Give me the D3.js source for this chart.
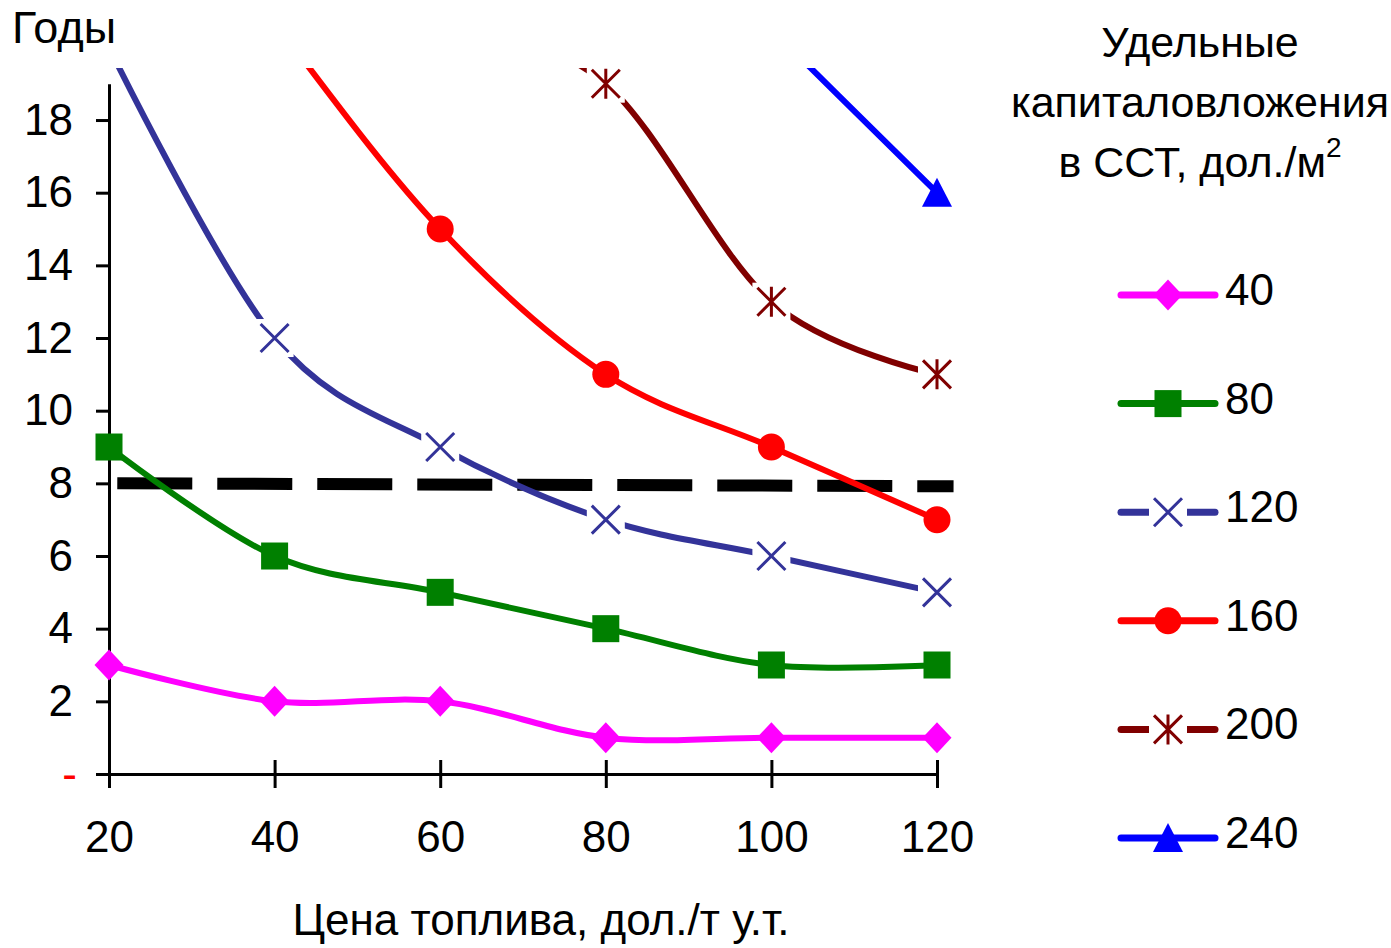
<!DOCTYPE html>
<html>
<head>
<meta charset="utf-8">
<script src="https://cdn.jsdelivr.net/npm/d3@7"></script>
<style>
  body { margin: 0; background: #fff; }
  text { font-family: "Liberation Sans", Arial, sans-serif; }
</style>
</head>
<body>
<svg id="chart" width="1391" height="948"></svg>
<script>
// fuel price, $/t c.e.
const prices = [20, 40, 60, 80, 100, 120];
// payback years per specific investment (null = not plotted, values > 19 run off the top)
const s40  = [3, 2, 2, 1, 1, 1];
const s80  = [9, 6, 5, 4, 3, 3];
const s120 = [20, 12, 9, 7, 6, 5];
const s160 = [27, 20.7, 15, 11, 9, 7];
const s200 = [null, 26, 21, 19, 13, 11];
const s240 = [null, null, 31, 25, 20.5, 16];
// normative payback level (dashed)
const normX = [21, 122];
const normY = [8, 7.92];
const yTicks = [0, 2, 4, 6, 8, 10, 12, 14, 16, 18];
const legendNames = ["40", "80", "120", "160", "200", "240"];

const series = [
  { name: legendNames[0], values: s40,  color: "#ff00ff", marker: "diamond" },
  { name: legendNames[1], values: s80,  color: "#008000", marker: "square" },
  { name: legendNames[2], values: s120, color: "#333399", marker: "x" },
  { name: legendNames[3], values: s160, color: "#ff0000", marker: "circle" },
  { name: legendNames[4], values: s200, color: "#800000", marker: "star" },
  { name: legendNames[5], values: s240, color: "#0000ff", marker: "triangle" }
];

const svg = d3.select("#chart");
const fontSize = 44;

let x = d3.scaleLinear().domain([20, 120]).range([109, 937]);
let y = d3.scaleLinear().domain([0, 19]).range([774, 83.7]);

svg.append("defs").append("clipPath").attr("id", "plot-clip")
  .append("rect").attr("x", 90).attr("y", 68).attr("width", 880).attr("height", 740);

// axes
let yAxis = d3.axisLeft(y).tickValues(yTicks).tickSize(13).tickSizeOuter(0)
  .tickPadding(23)
  .tickFormat(d => d === 0 ? "-" : d);
let gy = svg.append("g").attr("transform", "translate(109,0)").call(yAxis);
gy.select(".domain").attr("stroke", "#000").attr("stroke-width", 3);
gy.selectAll(".tick line").attr("stroke", "#000").attr("stroke-width", 3);
gy.selectAll(".tick text")
  .attr("font-size", fontSize).attr("fill", d => d === 0 ? "#ff0000" : "#000")
  .attr("dx", d => d === 0 ? 4 : 0)
  .style("font-family", "'Liberation Sans', Arial, sans-serif");

let xAxis = d3.axisBottom(x).tickValues(prices).tickSize(14).tickSizeOuter(0).tickPadding(33);
let gx = svg.append("g").attr("transform", "translate(0,774)").call(xAxis);
gx.select(".domain").attr("stroke", "#000").attr("stroke-width", 3);
gx.selectAll(".tick line").attr("y1", -14).attr("stroke", "#000").attr("stroke-width", 3);
gx.selectAll(".tick text").attr("font-size", fontSize).attr("fill", "#000")
  .style("font-family", "'Liberation Sans', Arial, sans-serif");

// axis titles
svg.append("text").attr("x", 12).attr("y", 43).attr("font-size", 45).text("Годы");
svg.append("text").attr("x", 541).attr("y", 935).attr("text-anchor", "middle")
  .attr("font-size", fontSize).text("Цена топлива, дол./т у.т.");

let plot = svg.append("g").attr("clip-path", "url(#plot-clip)");

// dashed norm line
let normLine = d3.line().x((d, i) => x(normX[i])).y(d => y(d));
plot.append("path")
  .attr("d", normLine(normY))
  .attr("fill", "none").attr("stroke", "#000").attr("stroke-width", 12)
  .attr("stroke-dasharray", "75,25");

let lineGenerator = d3.line()
  .defined(d => d.v !== null)
  .x(d => x(d.p))
  .y(d => y(d.v))
  .curve(d3.curveCardinal);

function drawMarker(g, type, color) {
  if (type === "diamond") {
    g.append("path").attr("d", "M0,-15.5 L14.5,0 L0,15.5 L-14.5,0 Z").attr("fill", color);
  } else if (type === "square") {
    g.append("rect").attr("x", -13.5).attr("y", -13.5).attr("width", 27).attr("height", 27).attr("fill", color);
  } else if (type === "circle") {
    g.append("circle").attr("r", 13.5).attr("fill", color);
  } else if (type === "triangle") {
    g.append("path").attr("d", "M0,-15 L15,14 L-15,14 Z").attr("fill", color);
  } else if (type === "x") {
    g.append("rect").attr("x", -19).attr("y", -19).attr("width", 38).attr("height", 38).attr("fill", "#fff");
    g.append("path").attr("d", "M-14,-14 L14,14 M-14,14 L14,-14")
      .attr("stroke", color).attr("stroke-width", 3).attr("fill", "none");
  } else if (type === "star") {
    g.append("rect").attr("x", -19).attr("y", -19).attr("width", 38).attr("height", 38).attr("fill", "#fff");
    g.append("path").attr("d", "M-14,-14 L14,14 M-14,14 L14,-14 M0,-15 L0,15")
      .attr("stroke", color).attr("stroke-width", 3).attr("fill", "none");
  }
}

series.forEach(s => {
  let pts = prices.map((p, i) => ({ p: p, v: s.values[i] }));
  plot.append("path")
    .attr("d", lineGenerator(pts))
    .attr("fill", "none").attr("stroke", s.color).attr("stroke-width", 6)
    .attr("stroke-linejoin", "round");
  pts.filter(d => d.v !== null && d.v <= 19.5).forEach(d => {
    let g = plot.append("g").attr("transform", `translate(${x(d.p)},${y(d.v)})`);
    drawMarker(g, s.marker, s.color);
  });
});

// legend
svg.append("text").attr("text-anchor", "middle").attr("font-size", 43)
  .selectAll("tspan")
  .data(["Удельные", "капиталовложения", "в ССТ, дол./м"])
  .enter().append("tspan")
  .attr("x", 1200).attr("y", (d, i) => 57 + i * 60)
  .text(d => d)
  .filter((d, i) => i === 2)
  .append("tspan").attr("dy", -20).attr("font-size", 28).text("2");

let legend = svg.append("g");
series.forEach((s, i) => {
  let cy = 295 + i * 108.6;
  legend.append("line").attr("x1", 1121).attr("x2", 1215).attr("y1", cy).attr("y2", cy)
    .attr("stroke", s.color).attr("stroke-width", 7).attr("stroke-linecap", "round");
  let g = legend.append("g").attr("transform", `translate(1168,${cy})`);
  drawMarker(g, s.marker, s.color);
  legend.append("text").attr("x", 1225).attr("y", cy + 10).attr("font-size", fontSize).text(s.name);
});
</script>
</body>
</html>
